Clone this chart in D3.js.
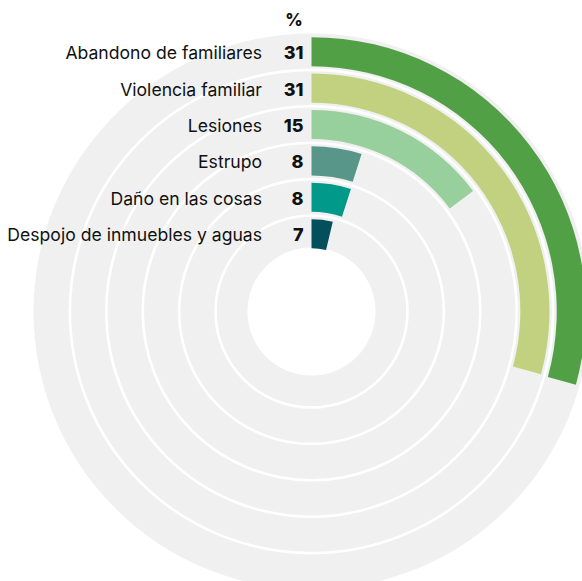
<!DOCTYPE html>
<html>
<head>
<meta charset="utf-8">
<script src="https://cdn.jsdelivr.net/npm/d3@7/dist/d3.min.js"></script>
<style>
    body { margin: 0; background: #fff; }
    #SVGcanvas text { font-family: "Inter", "Noto Sans", sans-serif; fill: #111; }
</style>
</head>
<body>
<svg id="SVGcanvas" width="582" height="581"></svg>
<script>
// data
var categories = ["Abandono de familiares", "Violencia familiar", "Lesiones", "Estrupo", "Daño en las cosas", "Despojo de inmuebles y aguas"];
var labelValues = [31, 31, 15, 8, 8, 7];
// how far each arc runs, in % of a full turn
var arcValues = [29.3, 29.25, 14.8, 4.9, 4.95, 3.7];
var colors = ["#52a046", "#c1d180", "#97d09c", "#58968a", "#00998a", "#03505c"];
var unitLabel = "%";

var RadialBars = {
    cx : 311.5,
    cy : 311.5,
    outerRadius : 278,
    innerRadius : 59.6,

    draw : function() {
        var self = this;
        var svg = d3.select("#SVGcanvas");

        var r = d3.scaleBand()
            .domain(categories)
            .range([self.outerRadius, self.innerRadius])
            .paddingInner(0.2)
            .paddingOuter(0.1);

        var angle = d3.scaleLinear().domain([0, 100]).range([0, 2 * Math.PI]);

        var rows = categories.map(function(c, i) {
            return { name : c, label : labelValues[i], arc : arcValues[i], color : colors[i] };
        });

        var g = svg.append("g").attr("transform", "translate(" + self.cx + "," + self.cy + ")");

        // grey background disc and the white rings between bands
        g.append("circle").attr("r", self.outerRadius).style("fill", "#f0f0f0");

        var step = r.step();
        var seps = d3.range(1, categories.length).map(function(k) { return self.outerRadius - k * step; });
        g.selectAll("circle.sep")
            .data(seps)
            .enter().append("circle")
            .attr("class", "sep")
            .attr("r", function(d) { return d; })
            .style("fill", "none")
            .style("stroke", "#fff")
            .style("stroke-width", 2.6);

        // hole in the middle
        g.append("circle")
            .attr("r", r(categories[categories.length - 1]) + 0.8)
            .style("fill", "#fff");

        var arc = d3.arc()
            .innerRadius(function(d) { return r(d.name); })
            .outerRadius(function(d) { return r(d.name) + r.bandwidth(); })
            .startAngle(0)
            .endAngle(function(d) { return angle(d.arc); });

        g.selectAll("path.bar")
            .data(rows)
            .enter().append("path")
            .attr("class", "bar")
            .attr("d", arc)
            .style("fill", function(d) { return d.color; });

        // labels on the left
        var mid = function(d) { return self.cy - (r(d.name) + r.bandwidth() / 2) + 7.5; };

        svg.selectAll("text.name")
            .data(rows)
            .enter().append("text")
            .attr("class", "name")
            .attr("x", 262)
            .attr("y", mid)
            .attr("text-anchor", "end")
            .style("font-size", "17.6px")
            .text(function(d) { return d.name; });

        svg.selectAll("text.val")
            .data(rows)
            .enter().append("text")
            .attr("class", "val")
            .attr("x", 303.5)
            .attr("y", mid)
            .attr("text-anchor", "end")
            .style("font-size", "18px")
            .style("font-weight", "800")
            .text(function(d) { return d.label; });

        svg.append("text")
            .attr("x", 294)
            .attr("y", 26)
            .attr("text-anchor", "middle")
            .style("font-size", "17px")
            .style("font-weight", "800")
            .text(unitLabel);
    }
};

RadialBars.draw();
</script>
</body>
</html>
